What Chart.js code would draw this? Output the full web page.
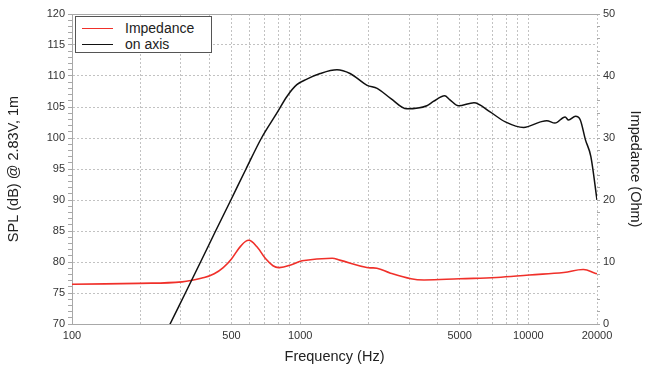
<!DOCTYPE html>
<html>
<head>
<meta charset="utf-8">
<script src="https://cdn.jsdelivr.net/npm/chart.js@4.4.1/dist/chart.umd.min.js"></script>
<style>
  html, body { margin: 0; padding: 0; background: #fff; }
  #wrap { position: relative; width: 650px; height: 368px; }
  #legend {
    position: absolute; left: 75px; top: 16px; width: 135px; height: 35px;
    border: 1px solid #555; background: #fff;
    font: 14px "Liberation Sans", Arial, sans-serif; color: #222;
  }
  .item { position: absolute; left: 0; width: 100%; height: 16px; }
  .swatch { position: absolute; left: 6px; top: 8px; width: 31px; height: 0; border-top: 1.6px solid; }
  .label { position: absolute; left: 49px; top: 0; line-height: 16px; }
</style>
</head>
<body>
<div id="wrap">
  <canvas id="chart" width="650" height="368"></canvas>
  <div id="legend"></div>
</div>
<script>
// on-axis SPL, dB @ 2.83V/1m
const freqSpl = [250, 269, 314, 366, 426, 497, 579, 677, 790, 875, 967, 1070, 1224, 1450, 1655,
  1966, 2175, 2490, 2935, 3592, 3836, 4300, 4520, 4940, 5780, 6800, 7930, 9540, 11300,
  12050, 13080, 14500, 15000, 16100, 16900, 17800, 18800, 20000];
const spl = [67.6, 70.0, 75.0, 80.0, 85.0, 90.0, 95.0, 100.0, 104.0, 106.7, 108.6, 109.5, 110.4, 111.0, 110.4,
  108.5, 108.0, 106.4, 104.7, 105.2, 105.9, 106.8, 106.2, 105.2, 105.7, 104.2, 102.6, 101.7, 102.6,
  102.8, 102.4, 103.4, 102.9, 103.5, 102.9, 99.7, 97.0, 90.0];

// impedance, Ohm
const freqImp = [100, 196, 304, 380, 420, 460, 500, 550, 595, 645, 703, 760, 810, 922, 1020, 1380,
  1490, 1960, 2170, 2490, 3060, 3490, 5000, 7260, 10100, 14300, 17450, 19600, 20000];
const impedance = [6.4, 6.56, 6.8, 7.5, 8.1, 9.1, 10.5, 12.6, 13.5, 12.5, 10.6, 9.4, 9.1, 9.6, 10.2, 10.6,
  10.3, 9.1, 9.0, 8.2, 7.3, 7.1, 7.3, 7.5, 7.9, 8.3, 8.8, 8.2, 8.1];

// log grid and the labelled frequencies
const freqGrid = [100, 200, 300, 400, 500, 600, 700, 800, 900,
  1000, 2000, 3000, 4000, 5000, 6000, 7000, 8000, 9000, 10000, 20000];
const freqLabels = [100, 500, 1000, 5000, 10000, 20000];

const FONT = '"Liberation Sans", Arial, sans-serif';
const GRID = '#c2c2c2';
const AXIS = '#a8a8a8';
const TEXT = '#333';

const toPoints = (xs, ys) => xs.map((x, i) => ({ x, y: ys[i] }));

// solid frame line along the top of the plot
const frameTop = {
  id: 'frameTop',
  afterDraw(chart) {
    const { ctx, chartArea: a } = chart;
    ctx.save();
    ctx.strokeStyle = AXIS;
    ctx.lineWidth = 1;
    ctx.beginPath();
    ctx.moveTo(a.left, a.top + 0.5);
    ctx.lineTo(a.right, a.top + 0.5);
    ctx.stroke();
    ctx.restore();
  }
};

const titleFont = { family: FONT, size: 14.5 };
const tickFont = { family: FONT, size: 11 };

const chart = new Chart(document.getElementById('chart'), {
  type: 'line',
  data: {
    datasets: [
      {
        label: 'Impedance',
        data: toPoints(freqImp, impedance),
        yAxisID: 'y2',
        borderColor: '#f0302a',
        borderWidth: 1.6,
        pointRadius: 0,
        tension: 0.4,
        order: 1
      },
      {
        label: 'on axis',
        data: toPoints(freqSpl, spl),
        yAxisID: 'y',
        borderColor: '#111',
        borderWidth: 1.5,
        pointRadius: 0,
        cubicInterpolationMode: 'monotone',
        order: 0
      }
    ]
  },
  options: {
    responsive: false,
    animation: false,
    layout: { padding: { top: 14, left: 0, right: 0, bottom: 0 } },
    plugins: {
      legend: { display: false },
      tooltip: { enabled: false }
    },
    scales: {
      x: {
        type: 'logarithmic',
        min: 100,
        max: 20000,
        afterBuildTicks: s => { s.ticks = freqGrid.map(v => ({ value: v })); },
        afterFit: s => { s.height = 44; },
        ticks: {
          autoSkip: false,
          maxRotation: 0,
          padding: 5,
          color: TEXT,
          font: tickFont,
          callback: v => freqLabels.includes(v) ? String(v) : ''
        },
        grid: { color: GRID, drawTicks: false },
        border: { color: AXIS, dash: [2, 2] },
        title: {
          display: true, text: 'Frequency (Hz)', color: '#222', font: titleFont,
          padding: { top: 0, bottom: 2 }
        }
      },
      y: {
        position: 'left',
        min: 70,
        max: 120,
        afterFit: s => { s.width = 72; },
        ticks: {
          stepSize: 1,
          autoSkip: false,
          padding: 3,
          color: TEXT,
          font: tickFont,
          callback: v => v % 5 === 0 ? String(v) : ''
        },
        grid: {
          color: c => (c.tick && c.tick.value % 5 === 0) ? GRID : 'rgba(0,0,0,0)',
          tickColor: AXIS,
          tickLength: 4
        },
        border: { color: AXIS, dash: [2, 2] },
        title: {
          display: true, text: 'SPL (dB) @ 2.83V, 1m', color: '#222', font: titleFont,
          padding: { top: 5, bottom: 0 }
        }
      },
      y2: {
        position: 'right',
        min: 0,
        max: 50,
        afterFit: s => { s.width = 53; },
        ticks: {
          stepSize: 2,
          autoSkip: false,
          padding: 3,
          color: TEXT,
          font: tickFont,
          callback: v => v % 10 === 0 ? String(v) : ''
        },
        grid: { drawOnChartArea: false, tickColor: AXIS, tickLength: 3 },
        border: { display: false },
        title: {
          display: true, text: 'Impedance (Ohm)', color: '#222', font: titleFont,
          padding: { top: 6, bottom: 0 }
        }
      }
    }
  },
  plugins: [frameTop]
});

// legend box inside the plot, built from the datasets
const legend = document.getElementById('legend');
chart.data.datasets.forEach((ds, i) => {
  const item = document.createElement('div');
  item.className = 'item';
  item.style.top = (3 + i * 16) + 'px';
  const sw = document.createElement('div');
  sw.className = 'swatch';
  sw.style.borderTopColor = ds.borderColor;
  const lb = document.createElement('div');
  lb.className = 'label';
  lb.textContent = ds.label;
  item.appendChild(sw);
  item.appendChild(lb);
  legend.appendChild(item);
});
</script>
</body>
</html>
